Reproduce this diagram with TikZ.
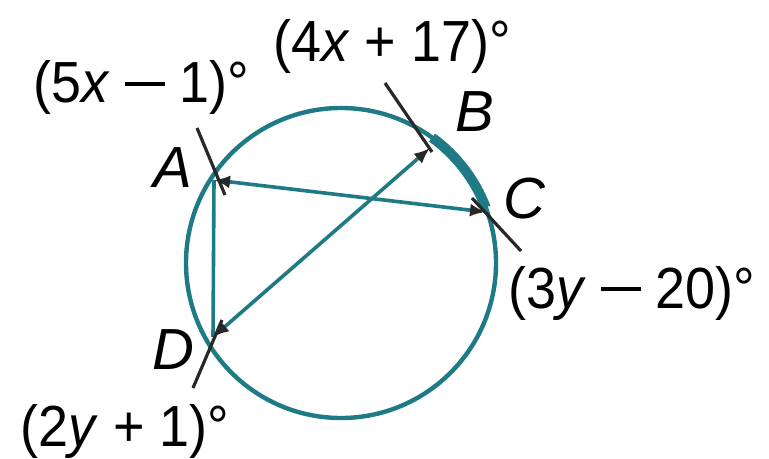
\documentclass[tikz,border=0pt]{standalone}
\usepackage{fontspec}
\setmainfont{Liberation Sans}
\usepackage{tikz}
\usetikzlibrary{arrows.meta}
\definecolor{circteal}{RGB}{30,122,132}
\definecolor{tickgray}{RGB}{40,40,40}
\newcommand\lminus{\raisebox{0.3em}{\rule{0.74em}{0.07em}}}
\newcommand\narrow[1]{\scalebox{0.93}[1]{#1}}

\begin{document}
\begin{tikzpicture}[x=0.5pt,y=-0.5pt]
\tikzset{chord/.style={circteal,line width=1.8pt,{Latex[length=8pt,width=6.5pt,color=tickgray]}-{Latex[length=8pt,width=6.5pt,color=tickgray]}},
  tickline/.style={tickgray,line width=1.6pt},
  lbl/.style={anchor=base west,inner sep=0pt,font=\fontsize{29}{29}\selectfont}};
\useasboundingbox (0,0) rectangle (769,459);
    \coordinate (O) at (341,263);
    \coordinate (A) at (214,180);
    \coordinate (B) at (430,148);
    \coordinate (C) at (486,212);
    \coordinate (D) at (213,337);
    \draw[circteal,line width=2.2pt] (O) circle (155);
    \draw[circteal,line width=5pt] ([shift={(-54:155)}]O) arc[start angle=-54,end angle=-21,radius=155];
    \draw[circteal,line width=1.8pt] (A)--(D);
    \draw[chord] (A)--(C);
    \draw[chord] (D)--(B);
    \coordinate (a1) at (197,128); \coordinate (a2) at (225,195);
    \coordinate (b1) at (385,83);  \coordinate (b2) at (432,152);
    \coordinate (c1) at (472,198); \coordinate (c2) at (521,251);
    \coordinate (d1) at (222,320); \coordinate (d2) at (193,388);
    \draw[tickline] (a1)--(a2);
    \draw[tickline] (b1)--(b2);
    \draw[tickline] (c1)--(c2);
    \draw[tickline] (d1)--(d2);
    \node[lbl] (nA) at (153,188) {\textit{A}};
    \node[lbl] (nB) at (455,132) {\textit{B}};
    \node[lbl] (nC) at (503,219) {\textit{C}};
    \node[lbl] (nD) at (152,369) {\textit{D}};
    \node[lbl] (angA) at (33,103) {\narrow{(5\textit{x} \lminus\ 1)°}};
    \node[lbl] (angB) at (273,62) {\narrow{(4\textit{x} + 17)°}};
    \node[lbl] (angC) at (508,308) {\narrow{(3\textit{y} \lminus\ 20)°}};
    \node[lbl] (angD) at (20,446) {\narrow{(2\textit{y} + 1)°}};
\end{tikzpicture}
\end{document}
